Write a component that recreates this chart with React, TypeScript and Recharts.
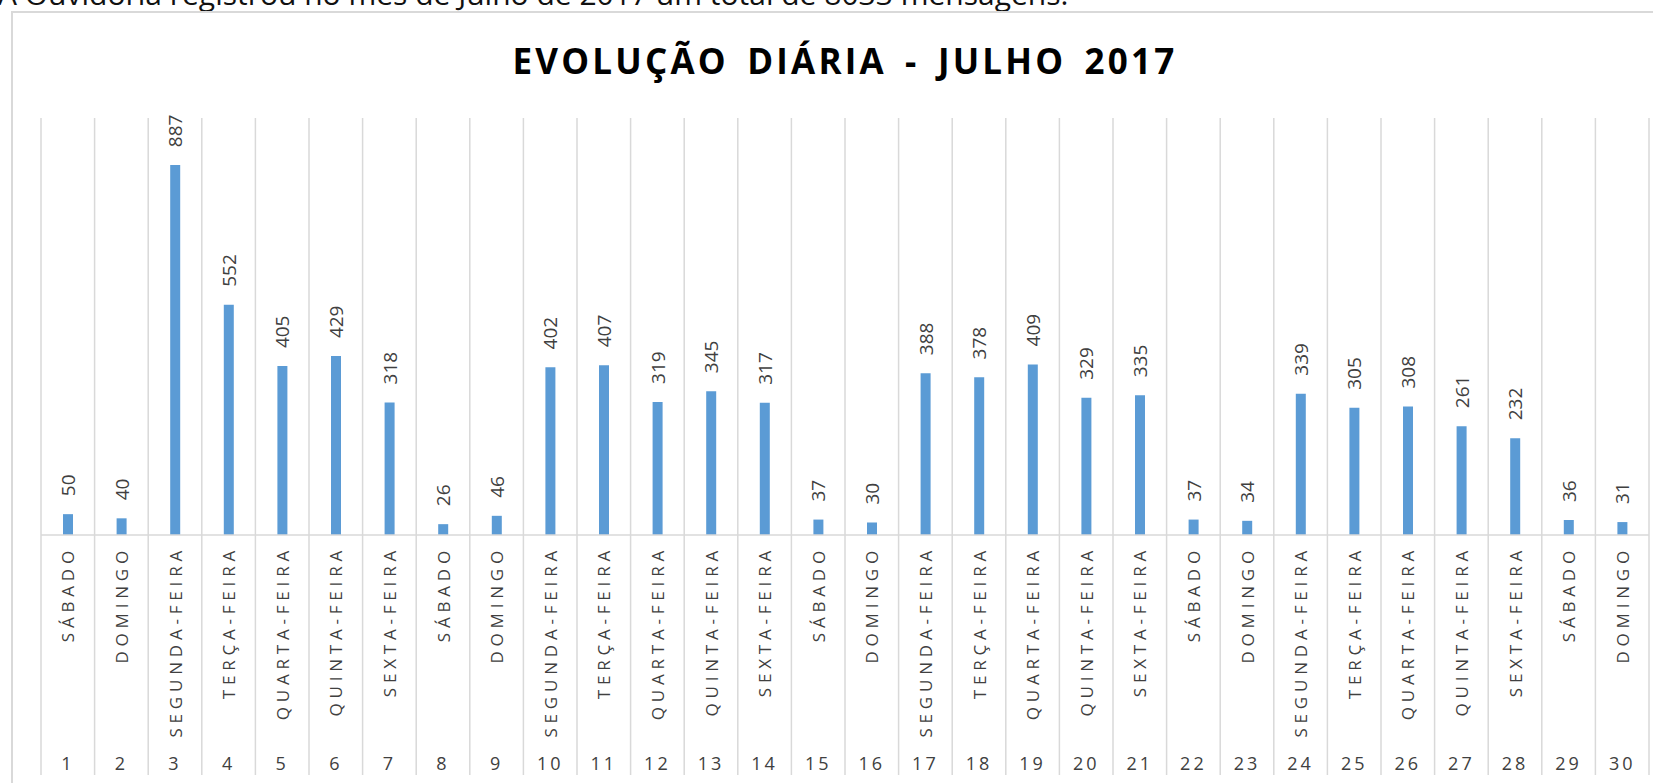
import { BarChart, Bar, XAxis, YAxis, LabelList } from 'recharts';

// Daily values for July 2017
const days = ['1', '2', '3', '4', '5', '6', '7', '8', '9', '10', '11', '12', '13', '14', '15', '16', '17', '18', '19', '20', '21', '22', '23', '24', '25', '26', '27', '28', '29', '30'];
const weekdays = [
  'SÁBADO', 'DOMINGO', 'SEGUNDA-FEIRA', 'TERÇA-FEIRA', 'QUARTA-FEIRA', 'QUINTA-FEIRA', 'SEXTA-FEIRA',
  'SÁBADO', 'DOMINGO', 'SEGUNDA-FEIRA', 'TERÇA-FEIRA', 'QUARTA-FEIRA', 'QUINTA-FEIRA', 'SEXTA-FEIRA',
  'SÁBADO', 'DOMINGO', 'SEGUNDA-FEIRA', 'TERÇA-FEIRA', 'QUARTA-FEIRA', 'QUINTA-FEIRA', 'SEXTA-FEIRA',
  'SÁBADO', 'DOMINGO', 'SEGUNDA-FEIRA', 'TERÇA-FEIRA', 'QUARTA-FEIRA', 'QUINTA-FEIRA', 'SEXTA-FEIRA',
  'SÁBADO', 'DOMINGO',
];
const mensagens = [50, 40, 887, 552, 405, 429, 318, 26, 46, 402, 407, 319, 345, 317, 37, 30, 388, 378, 409, 329, 335, 37, 34, 339, 305, 308, 261, 232, 36, 31];

const data = days.map((d, i) => ({ key: `${d}|${weekdays[i]}`, dia: d, semana: weekdays[i], valor: mensagens[i] }));

const W = 1653;
const H = 783;
const MARGIN = { top: 118, left: 41, right: 4, bottom: 0 };
const AXIS_H = 248;
const PLOT_H = H - MARGIN.top - AXIS_H;
const BAND = (W - MARGIN.left - MARGIN.right) / days.length;
const GRID = '#d9d9d9';
const FONT = '"Open Sans", sans-serif';

const DayTick = (props: any) => {
  const { x, y, payload, index } = props;
  const [dia, semana] = String(payload.value).split('|');
  return (
    <g>
      {index === 0 && (
        <line x1={x - BAND / 2} x2={x - BAND / 2} y1={y - PLOT_H} y2={y + 240} stroke={GRID} strokeWidth={1.5} />
      )}
      <line x1={x + BAND / 2} x2={x + BAND / 2} y1={y - PLOT_H} y2={y + 240} stroke={GRID} strokeWidth={1.5} />
      <text
        x={x}
        y={y + 11}
        transform={`rotate(-90, ${x}, ${y + 11})`}
        textAnchor="end"
        dominantBaseline="central"
        fontFamily={FONT}
        fontSize={17}
        fill="#404040"
        style={{ letterSpacing: '4.8px' }}
      >
        {semana}
      </text>
      <text
        x={x}
        y={y + 228}
        textAnchor="middle"
        dominantBaseline="central"
        fontFamily={FONT}
        fontSize={18}
        fill="#404040"
        style={{ letterSpacing: '3px' }}
      >
        {dia}
      </text>
    </g>
  );
};

const ValueLabel = (props: any) => {
  const { x, y, width, value } = props;
  const cx = x + width / 2;
  const ty = y - 18;
  return (
    <text
      x={cx}
      y={ty}
      transform={`rotate(-90, ${cx}, ${ty})`}
      textAnchor="start"
      dominantBaseline="central"
      fontFamily={FONT}
      fontSize={19}
      fill="#404040"
    >
      {value}
    </text>
  );
};

export default function App() {
  return (
    <div style={{ position: 'absolute', left: 0, top: 0, width: W, height: H, overflow: 'hidden', background: '#fff' }}>
      <div
        style={{
          position: 'absolute',
          left: -2,
          top: -27,
          fontFamily: FONT,
          fontSize: 30,
          color: '#111',
          whiteSpace: 'nowrap',
        }}
      >
        A Ouvidoria registrou no mês de Julho de 2017 um total de 8033 mensagens.
      </div>
      <div
        style={{
          position: 'absolute',
          left: 11,
          top: 11,
          width: 1700,
          height: 820,
          border: `2px solid ${GRID}`,
          boxSizing: 'border-box',
        }}
      />
      <div
        style={{
          position: 'absolute',
          left: MARGIN.left,
          width: W - MARGIN.left - MARGIN.right,
          top: 39,
          textAlign: 'center',
          fontFamily: FONT,
          fontWeight: 700,
          fontSize: 35,
          letterSpacing: '3.2px',
          wordSpacing: '6px',
          color: '#000',
          lineHeight: '44px',
        }}
      >
        EVOLUÇÃO DIÁRIA - JULHO 2017
      </div>
      <div style={{ position: 'absolute', left: 0, top: 0 }}>
        <BarChart width={W} height={H} data={data} margin={MARGIN} barCategoryGap={0}>
          <XAxis
            dataKey="key"
            interval={0}
            height={AXIS_H}
            tickSize={0}
            tickMargin={0}
            tickLine={false}
            axisLine={{ stroke: GRID, strokeWidth: 1.5 }}
            tick={<DayTick />}
          />
          <YAxis hide domain={[0, 1000]} />
          <Bar dataKey="valor" fill="#5b9bd5" barSize={10} isAnimationActive={false}>
            <LabelList dataKey="valor" content={<ValueLabel />} />
          </Bar>
        </BarChart>
      </div>
    </div>
  );
}
